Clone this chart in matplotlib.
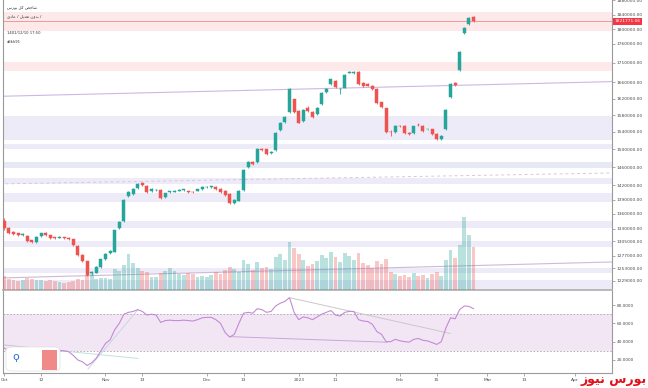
import matplotlib
matplotlib.use('Agg')
import matplotlib.pyplot as plt
import numpy as np
from matplotlib.ticker import NullLocator, FuncFormatter
from matplotlib.patches import FancyBboxPatch, Rectangle

# ---------------- data (prices in thousands) ----------------
opens_k = [1346, 1331, 1324, 1321, 1317, 1316, 1306.5, 1303.5, 1314.8, 1320.5,
           1317, 1312.5, 1312, 1313, 1311.5, 1309, 1296, 1277.5, 1266, 1243,
           1244.5, 1254.5, 1270.4, 1281, 1284.5, 1331, 1345, 1398.4, 1402, 1415,
           1424.7, 1419.5, 1408.3, 1410, 1410.4, 1396, 1406.5, 1407, 1409, 1410,
           1407.5, 1407, 1409, 1412.8, 1416.3, 1417, 1416.3, 1412.8, 1409, 1401.8,
           1382, 1387.7, 1410.4, 1461, 1471, 1471, 1501.5, 1500, 1491, 1498.5,
           1544.6, 1564.3, 1586.6, 1618, 1589.6, 1566.5, 1596, 1588, 1582, 1606.3,
           1635.4, 1656, 1663.6, 1642.5, 1647, 1685, 1684, 1686, 1658, 1656,
           1652, 1643.6, 1610.5, 1596, 1541, 1539, 1554.5, 1554, 1538.4, 1537,
           1557.5, 1554, 1546, 1546, 1535.5, 1523.5, 1546, 1623.5, 1659, 1691.5,
           1789, 1813.7, 1833]
highs_k = [1352, 1333, 1326, 1322, 1321, 1318, 1308, 1315, 1322, 1323,
           1318, 1314, 1314.5, 1314, 1312.5, 1310, 1297, 1279, 1267, 1248,
           1256, 1271, 1282, 1287, 1328, 1345, 1391, 1409, 1415, 1426,
           1427, 1421, 1414, 1413, 1412, 1405, 1409, 1409.5, 1411.5, 1413,
           1409, 1408.5, 1413.5, 1418, 1418.5, 1419.5, 1418, 1414, 1410.5, 1403,
           1391, 1410, 1456, 1474, 1473, 1502, 1504, 1501.5, 1496, 1539,
           1564, 1577, 1647, 1620, 1591, 1594, 1601, 1590, 1599, 1635,
           1646, 1670, 1665, 1646, 1681, 1689, 1689, 1690, 1660, 1658,
           1654, 1645, 1612, 1598, 1545, 1556, 1556, 1556, 1540, 1555,
           1560, 1556, 1548, 1548, 1537, 1533, 1594, 1658, 1662, 1740,
           1805, 1832, 1836]
lows_k = [1328, 1319, 1318, 1315, 1316, 1304, 1302, 1302, 1313, 1316,
          1310, 1310, 1310.5, 1309, 1307, 1296, 1276, 1264, 1238, 1240,
          1243, 1253, 1269, 1279, 1283, 1329, 1344, 1396, 1400, 1413,
          1419, 1405, 1406, 1408, 1391, 1394, 1405, 1405.5, 1407.5, 1408.5,
          1405, 1404, 1407.5, 1411, 1415, 1415.5, 1411, 1404, 1398, 1380,
          1380, 1386, 1409, 1459, 1465, 1469, 1497, 1488, 1489, 1497,
          1543, 1562, 1585, 1585, 1560, 1564, 1588, 1574, 1580, 1604,
          1633, 1654, 1647, 1631, 1645, 1683, 1682, 1653, 1649, 1650,
          1641, 1606, 1596, 1538, 1530, 1537, 1552, 1535, 1533, 1535,
          1555, 1541, 1544, 1533, 1521, 1521, 1544, 1621, 1651, 1689,
          1787, 1811, 1819]
closes_k = [1331, 1321, 1319.5, 1317, 1319, 1306, 1303.5, 1313.5, 1320.5, 1317.5,
            1312, 1311.5, 1313, 1310.5, 1308.5, 1297.5, 1277.5, 1266, 1240, 1246,
            1254.5, 1269.5, 1280, 1285.5, 1326.8, 1343.6, 1389, 1407, 1412.8, 1424,
            1421, 1406.8, 1412, 1411, 1392.8, 1403.5, 1407.5, 1408, 1410, 1411.5,
            1406, 1405.5, 1412, 1416.3, 1417, 1418, 1412.8, 1406, 1399.7, 1382,
            1389.2, 1408.3, 1453.8, 1472.3, 1467, 1500.1, 1498.5, 1489.6, 1494, 1537,
            1561.9, 1574.7, 1644.8, 1586.6, 1561.9, 1592, 1589.6, 1576.3, 1597.5, 1632.9,
            1643.6, 1668, 1649.2, 1643.5, 1679, 1687.6, 1687.6, 1655.5, 1651, 1651.7,
            1643.6, 1608, 1598.4, 1540.6, 1540, 1554, 1553.5, 1537, 1535.5, 1553.5,
            1556.5, 1543, 1547, 1535.5, 1523.5, 1531, 1592, 1656, 1653.5, 1738,
            1802.7, 1830, 1821.77106]
volumes = [136, 110, 100, 86, 100, 123, 110, 100, 97, 93,
           100, 93, 83, 66, 80, 93, 106, 103, 146, 166,
           113, 120, 123, 110, 206, 193, 253, 360, 273, 220,
           193, 177, 133, 133, 170, 193, 220, 193, 160, 150,
           170, 160, 130, 140, 130, 150, 180, 160, 200, 230,
           210, 180, 300, 260, 200, 280, 220, 230, 210, 330,
           360, 300, 480, 420, 360, 300, 240, 260, 290, 350,
           320, 380, 330, 280, 370, 340, 300, 370, 270, 250,
           220, 290, 260, 310, 180, 160, 140, 150, 130, 170,
           140, 150, 120, 160, 180, 140, 300, 400, 320, 450,
           730, 550, 430]
rsi_values = [33, 30, 29, 28, 29, 26, 25, 29, 32, 31, 30, 30, 30.5, 30, 29, 25, 20,
              18, 14, 17, 22, 30, 38, 42, 53, 60, 70,
              72, 73, 75, 73, 69, 70, 69, 61, 63, 63.5, 63, 63, 63.5, 63, 62.5, 64, 66, 66.5, 66.5, 64,
              60, 50, 45, 48, 60, 71, 72, 71, 76, 75, 72, 73, 79, 82, 84, 88,
              72, 64, 67, 66, 64, 67, 70, 72, 74, 69, 68, 72, 73, 73,
              64, 62.5, 62, 59, 51, 48, 40, 40, 42.6, 41, 40, 39.5, 42.5, 43.5, 41.5, 40.8,
              39, 37, 40, 55, 66, 65, 75, 79, 78.5, 76]
last_price = 1821771.06

price_ticks = [1880000, 1840000, 1800000, 1760000, 1710000, 1660000, 1620000, 1580000,
               1540000, 1500000, 1460000, 1420000, 1390000, 1360000, 1330000, 1305000,
               1277000, 1253000, 1229000]
rsi_ticks = [20, 40, 60, 80]
x_tick_labels = ['Oct', '12', 'Nov', '13', 'Dec', '13', '2023', '11', 'Feb', '15', 'Mar', '13', 'Apr']
x_tick_bars = [0, 8, 22, 30, 44, 52, 64, 72, 86, 94, 105, 113, 124]

# horizontal zones (low, high) in thousands
zones_pink = [(1794.5, 1848.4), (1689.8, 1713.0)]
zones_lav = [(1522.5, 1577.7), (1500.1, 1512.2), (1422.2, 1436.2), (1385.0, 1404.0),
             (1330.9, 1345.7), (1294.3, 1305.5), (1243.2, 1252.2), (1200.0, 1231.0)]
zones_blue = [(1457.5, 1472.6)]
# trend lines: (bar0, price0_k, bar1, price1_k)
tl_purple = (-1, 1625.5, 132, 1662.1)
tl_dashed = (-1, 1423.4, 132, 1447.2)
tl_low = (-1, 1234.3, 132, 1264.6)
# RSI trend lines: (bar0, rsi0, bar1, rsi1)
rsi_lines = [((62, 88, 96.9, 49), '#c9c9c9'),
             ((49.1, 45.5, 83.2, 39.4), '#c9a6dc'),
             ((-0.1, 36.5, 14.1, 29.3), '#c6c6d0'),
             ((11.5, 30.4, 29.1, 21.7), '#bfe3dc'),
             ((18.2, 10.2, 29.1, 75.2), '#c5d6e6')]

# ---------------- figure ----------------
W, H = 648, 388
fig = plt.figure(figsize=(W / 100, H / 100), dpi=100)
fig.patch.set_facecolor('white')

L = 3 / W
Wd = 609 / W
main_rect = [L, (H - 290) / H, Wd, 290 / H]
rsi_rect = [L, (H - 373) / H, Wd, 82 / H]

GREEN = '#26a69a'
RED = '#ef5350'

o = np.array(opens_k) * 1000
hi = np.array(highs_k) * 1000
lo = np.array(lows_k) * 1000
c = np.array(closes_k) * 1000
v = np.array(volumes, dtype=float)
x = np.arange(len(o))
up = c >= o
cols = np.where(up, GREEN, RED)

ax = fig.add_axes(main_rect)
ax.set_zorder(0)
ax.set_facecolor('white')
ax.set_xlim(-0.28, 132.1)
ax.set_yscale('log')
ax.set_ylim(1212000, 1881000)

for lo_z, hi_z in zones_pink:
    ax.axhspan(lo_z * 1000, hi_z * 1000, color='#fde9e9', lw=0, zorder=0)
for lo_z, hi_z in zones_lav:
    ax.axhspan(lo_z * 1000, hi_z * 1000, color='#eeebf8', lw=0, zorder=0)
for lo_z, hi_z in zones_blue:
    ax.axhspan(lo_z * 1000, hi_z * 1000, color='#e6e9f4', lw=0, zorder=0)

b0, p0, b1, p1 = tl_purple
ax.plot([b0, b1], [p0 * 1000, p1 * 1000], color='#cdb7e3', lw=0.8, zorder=1)
b0, p0, b1, p1 = tl_dashed
ax.plot([b0, b1], [p0 * 1000, p1 * 1000], color='#dcc3e0', lw=0.7, ls=(0, (3, 3)), zorder=1)
b0, p0, b1, p1 = tl_low
ax.plot([b0, b1], [p0 * 1000, p1 * 1000], color='#cdb9d9', lw=0.8, zorder=1)

ax.axhline(last_price, color='#f08a8a', lw=0.6, zorder=1)

ax.yaxis.tick_right()
ax.set_yticks(price_ticks)
ax.yaxis.set_minor_locator(NullLocator())
ax.yaxis.set_major_formatter(FuncFormatter(lambda val, pos: f'{val:.2f}'))
ax.tick_params(axis='y', labelsize=3.2, labelcolor='#4a4a4a', color='#8a8a8a',
               length=2, width=0.5, pad=1.5)
ax.tick_params(axis='x', bottom=False, labelbottom=False, top=False, labeltop=False)
ax.spines['top'].set_visible(False)
ax.spines['left'].set_color('#9a9a9a')
ax.spines['left'].set_linewidth(0.8)
ax.spines['right'].set_color('#9a9a9a')
ax.spines['right'].set_linewidth(0.8)
ax.spines['bottom'].set_color('#b4b4b4')
ax.spines['bottom'].set_linewidth(1.3)

ax.text(1.004, last_price, '1821771.06', transform=ax.get_yaxis_transform(),
        ha='left', va='center', fontsize=3.2, color='white', zorder=10,
        bbox=dict(boxstyle='square,pad=0.35', fc='#f23645', ec='none'), clip_on=False)

# volume layer
axv = fig.add_axes(main_rect, sharex=ax)
axv.set_zorder(1)
axv.patch.set_alpha(0)
axv.set_ylim(0, 2900)
vcols = np.where(up, '#26a69a', '#ef5350')
axv.bar(x, v, width=0.85, color=vcols, alpha=0.32, lw=0)
axv.axis('off')

# candle layer
axc = fig.add_axes(main_rect, sharex=ax, sharey=ax)
axc.set_zorder(2)
axc.patch.set_alpha(0)
axc.vlines(x, lo, hi, colors=cols, lw=0.6)
axc.bar(x, np.abs(c - o), bottom=np.minimum(o, c), width=0.66, color=cols,
        edgecolor=cols, lw=0.35)
axc.axis('off')

# header texts (Arabic in visual order, presentation forms)
t1 = '\uFEB1\uFEAD\uFEEE\uFE91 \uFEDE\uFB90 \uFEBA\uFEA7\uFE8E\uFEB7'
t2 = '\uFBFC\uFEA9\uFE8E\uFECB / \uFEDE\uFBFE\uFEAA\uFECC\uFE97 \uFEE5\uFEED\uFEAA\uFE91 /'
fig.text(7 / W, 1 - 7 / H, t1, fontsize=3.0, color='#333333', va='center', ha='left',
         family=['DejaVu Sans'])
fig.text(7 / W, 1 - 16 / H, t2, fontsize=3.0, color='#333333', va='center', ha='left',
         family=['DejaVu Sans'])
fig.text(7 / W, 1 - 33 / H, '1401/12/10 17:50', fontsize=2.7, color='#333333', va='center', ha='left')
fig.text(7 / W, 1 - 42 / H, 'a8kh91', fontsize=2.7, color='#333333', va='center', ha='left')

# ---------------- RSI pane ----------------
axr = fig.add_axes(rsi_rect, sharex=ax)
axr.set_facecolor('white')
axr.set_ylim(5.8, 95.3)
axr.axhspan(30, 70, color='#f3e6f4', lw=0, zorder=0)
axr.axhline(70, color='#a8a8a8', lw=0.6, ls=(0, (2, 2)), zorder=1)
axr.axhline(30, color='#a8a8a8', lw=0.6, ls=(0, (2, 2)), zorder=1)
for (b0, r0, b1, r1), col in rsi_lines:
    axr.plot([b0, b1], [r0, r1], color=col, lw=0.7, zorder=2)
axr.plot(x, rsi_values, color='#c48ad6', lw=0.8, zorder=3)

axr.yaxis.tick_right()
axr.set_yticks(rsi_ticks)
axr.yaxis.set_major_formatter(FuncFormatter(lambda val, pos: f'{val:.4f}'))
axr.tick_params(axis='y', labelsize=3.1, labelcolor='#4a4a4a', color='#8a8a8a',
                length=2, width=0.5, pad=1.5)
axr.set_xticks(x_tick_bars)
axr.set_xticklabels(x_tick_labels)
axr.tick_params(axis='x', labelsize=3.2, labelcolor='#4a4a4a', color='#8a8a8a',
                length=2, width=0.5, pad=1.5)
axr.spines['top'].set_visible(False)
for s in ['left', 'right', 'bottom']:
    axr.spines[s].set_color('#9a9a9a')
    axr.spines[s].set_linewidth(0.8)

# logo box bottom-left
logo = FancyBboxPatch((6 / W, (H - 371) / H), 54 / W, 24 / H,
                      boxstyle='round,pad=0,rounding_size=0.01',
                      transform=fig.transFigure, fc='white', ec='#e0e0e0', lw=0.5, zorder=5)
fig.patches.append(logo)
fig.patches.append(Rectangle((42 / W, (H - 370) / H), 15 / W, 20 / H, transform=fig.transFigure,
                             fc='#f08a8a', ec='none', zorder=6))
fig.text(16 / W, 1 - 357 / H, '\u03D9', fontsize=8, color='#2f6fd6', ha='center', va='center',
         zorder=7)

# watermark bottom right
wm = '\uFEAF\uFEEE\uFBFF\uFEE7 \uFEB1\uFEAD\uFEEE\uFE91'
fig.text(647 / W, 1 - 380 / H, wm, fontsize=9, color='#e3101a', fontweight='bold',
         ha='right', va='center', family=['DejaVu Sans'])

fig.savefig('out.png', dpi=100, facecolor='white')
